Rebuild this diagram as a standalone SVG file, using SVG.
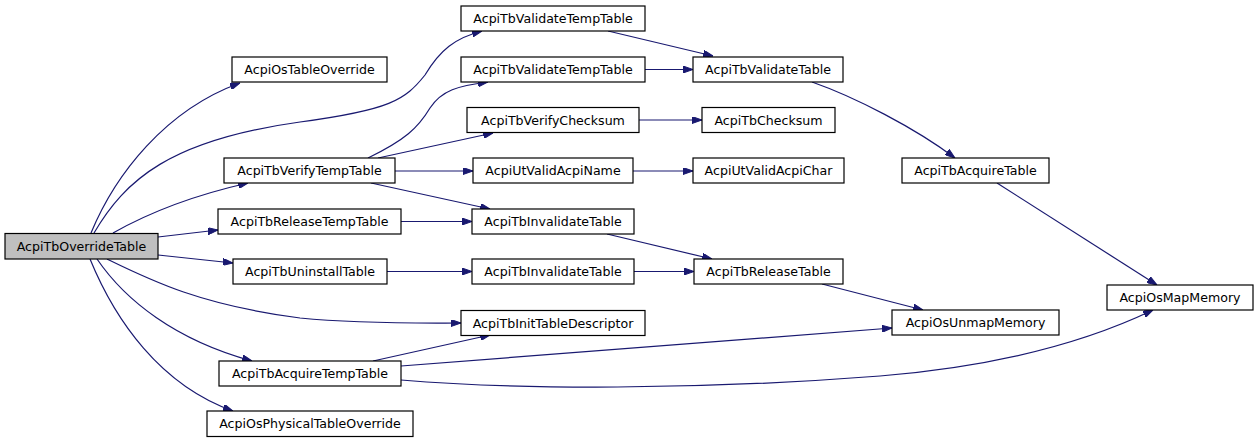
<svg xmlns="http://www.w3.org/2000/svg" width="1259" height="443" viewBox="0 0 1259 443">
<defs>
<marker id="ah" viewBox="0 0 10 7" refX="10" refY="3.5" markerWidth="10" markerHeight="7" orient="auto" markerUnits="userSpaceOnUse">
<path d="M0,0 L10,3.5 L0,7 z" fill="#191970" stroke="#191970" stroke-width="1"/>
</marker>
<style>
.n rect{fill:#ffffff;stroke:#000000;stroke-width:1.2}
.n.root rect{fill:#bfbfbf}
.n text{font-family:"DejaVu Sans","Liberation Sans",sans-serif;font-size:12.6px;fill:#000000;text-anchor:middle}
#edges path{fill:none;stroke:#191970;stroke-width:1.2;marker-end:url(#ah)}
</style>
</defs>
<rect width="1259" height="443" fill="#ffffff"/>
<g id="edges">
<path d="M91,233 C115,175 165,110 240,83"/>
<path d="M94,233 C125,180 170,140 300,122 C390,110 405,100 425,75 C440,50 455,38 482,31"/>
<path d="M113,233 C150,212 195,195 248,183"/>
<path d="M158,237 L218,230"/>
<path d="M158,255 L233,263"/>
<path d="M107,259 C150,280 200,305 300,318 C360,324 420,323 461,323"/>
<path d="M97,259 C125,300 175,340 252,361"/>
<path d="M90,259 C115,320 160,385 233,411"/>
<path d="M368,158 C405,140 418,128 430,108 C442,90 458,86 488,82"/>
<path d="M378,158 L493,133"/>
<path d="M395,171 L473,171"/>
<path d="M371,183 L490,209"/>
<path d="M401,221.5 L472,221.5"/>
<path d="M387,271.5 L472,271.5"/>
<path d="M373,361 L490,335"/>
<path d="M401,366 L892,328"/>
<path d="M401,380 C520,390 700,390 880,376 C990,367 1080,345 1153,310"/>
<path d="M608,31 L713,56"/>
<path d="M645,69.5 L693,69.5"/>
<path d="M639,120 L702,120"/>
<path d="M633,171 L693,171"/>
<path d="M607,234 L712,259"/>
<path d="M634,271.5 L694,271.5"/>
<path d="M812,82 C855,97 915,128 955,158"/>
<path d="M997,183 L1157,285"/>
<path d="M822,284 L923,310"/>
</g>
<g id="n0" class="n root"><rect x="5" y="233.5" width="153" height="25.5"/><text x="81.5" y="250.8">AcpiTbOverrideTable</text></g>
<g id="n1" class="n"><rect x="232" y="57" width="155" height="25"/><text x="309.5" y="74">AcpiOsTableOverride</text></g>
<g id="n2" class="n"><rect x="461" y="6" width="184" height="25"/><text x="553" y="23">AcpiTbValidateTempTable</text></g>
<g id="n3" class="n"><rect x="224" y="158" width="171" height="25"/><text x="309.5" y="175">AcpiTbVerifyTempTable</text></g>
<g id="n4" class="n"><rect x="218" y="209" width="183" height="25"/><text x="309.5" y="226">AcpiTbReleaseTempTable</text></g>
<g id="n5" class="n"><rect x="233" y="259" width="154" height="25"/><text x="310" y="276">AcpiTbUninstallTable</text></g>
<g id="n6" class="n"><rect x="461" y="310.5" width="184" height="25"/><text x="553" y="327.5">AcpiTbInitTableDescriptor</text></g>
<g id="n7" class="n"><rect x="219" y="361" width="182" height="25"/><text x="310" y="378">AcpiTbAcquireTempTable</text></g>
<g id="n8" class="n"><rect x="207" y="411" width="206" height="25.5"/><text x="310" y="428.3">AcpiOsPhysicalTableOverride</text></g>
<g id="n9" class="n"><rect x="461" y="57" width="184" height="25"/><text x="553" y="74">AcpiTbValidateTempTable</text></g>
<g id="n10" class="n"><rect x="467" y="107.5" width="172" height="25"/><text x="553" y="124.5">AcpiTbVerifyChecksum</text></g>
<g id="n11" class="n"><rect x="473" y="158" width="160" height="25"/><text x="553" y="175">AcpiUtValidAcpiName</text></g>
<g id="n12" class="n"><rect x="472" y="209" width="162" height="25"/><text x="553" y="226">AcpiTbInvalidateTable</text></g>
<g id="n13" class="n"><rect x="472" y="259" width="162" height="25"/><text x="553" y="276">AcpiTbInvalidateTable</text></g>
<g id="n14" class="n"><rect x="693" y="57" width="150" height="25"/><text x="768" y="74">AcpiTbValidateTable</text></g>
<g id="n15" class="n"><rect x="702" y="107.5" width="133" height="25"/><text x="768.5" y="124.5">AcpiTbChecksum</text></g>
<g id="n16" class="n"><rect x="693" y="158" width="151" height="25"/><text x="768.5" y="175">AcpiUtValidAcpiChar</text></g>
<g id="n17" class="n"><rect x="694" y="259" width="149" height="25"/><text x="768.5" y="276">AcpiTbReleaseTable</text></g>
<g id="n18" class="n"><rect x="902" y="158" width="147" height="25"/><text x="975.5" y="175">AcpiTbAcquireTable</text></g>
<g id="n19" class="n"><rect x="892" y="310" width="167" height="25"/><text x="975.5" y="327">AcpiOsUnmapMemory</text></g>
<g id="n20" class="n"><rect x="1107" y="285" width="146" height="25"/><text x="1180" y="302">AcpiOsMapMemory</text></g>
</svg>
